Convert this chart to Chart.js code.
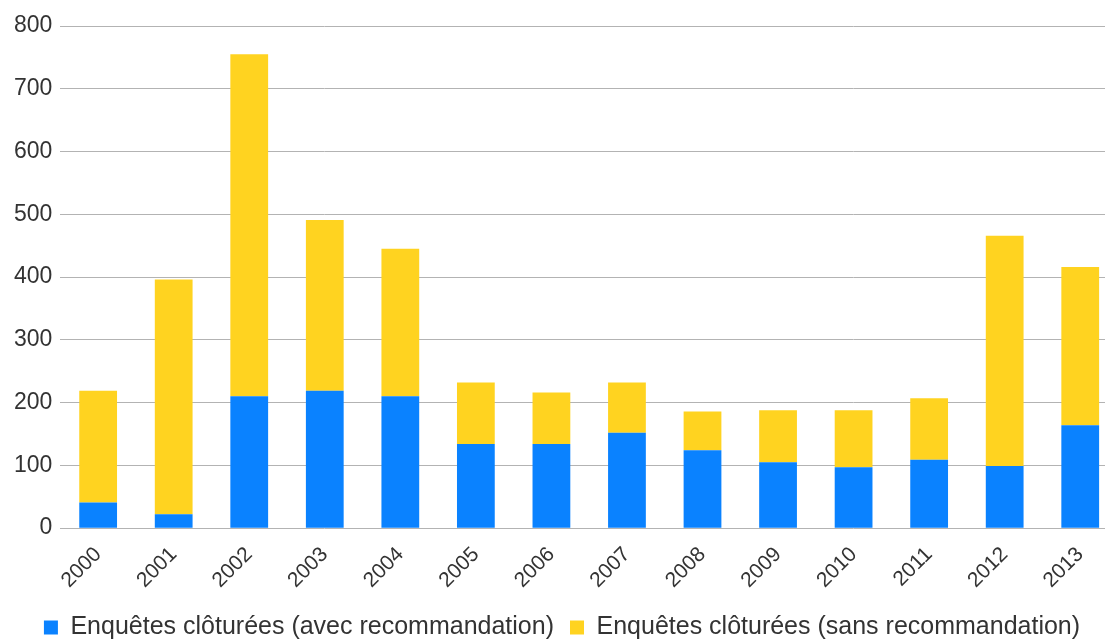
<!DOCTYPE html>
<html lang="fr">
<head>
<meta charset="utf-8">
<title>Enquêtes clôturées</title>
<script src="https://cdn.jsdelivr.net/npm/chart.js@4/dist/chart.umd.min.js"></script>
<style>
  html, body { margin: 0; padding: 0; background: #fff; overflow: hidden; }
  #wrap { position: relative; width: 1118px; height: 650px; }
</style>
</head>
<body>
<div id="wrap"><canvas id="chart"></canvas></div>
<script>
const years = ['2000', '2001', '2002', '2003', '2004', '2005', '2006',
               '2007', '2008', '2009', '2010', '2011', '2012', '2013'];
const avecRecommandation = [41, 22, 210, 219, 210, 134, 134, 152, 124, 105, 97, 109, 99, 164];
const sansRecommandation = [178, 374, 545, 272, 235, 98, 82, 80, 62, 83, 91, 98, 367, 252];
const yTicks = [0, 100, 200, 300, 400, 500, 600, 700, 800];

const fontFamily = '"Liberation Sans", Arial, sans-serif';
const textColor = '#333333';
const gridColor = '#b3b3b3';

new Chart(document.getElementById('chart'), {
    type: 'bar',
    data: {
        labels: years,
        datasets: [
            {
                label: 'Enquêtes clôturées (avec recommandation)',
                data: avecRecommandation,
                backgroundColor: '#0a82ff'
            },
            {
                label: 'Enquêtes clôturées (sans recommandation)',
                data: sansRecommandation,
                backgroundColor: '#ffd320'
            }
        ]
    },
    options: {
        responsive: true,
        maintainAspectRatio: false,
        animation: false,
        layout: { padding: { left: 6, top: 26, right: 0, bottom: 0 } },
        datasets: { bar: { barPercentage: 0.5, categoryPercentage: 1 } },
        scales: {
            x: {
                stacked: true,
                grid: { display: false },
                border: { display: false },
                ticks: {
                    color: textColor,
                    font: { family: fontFamily, size: 21 },
                    minRotation: 45,
                    maxRotation: 45,
                    padding: 6
                }
            },
            y: {
                stacked: true,
                min: 0,
                max: 800,
                afterBuildTicks: (axis) => { axis.ticks = yTicks.map(v => ({ value: v })); },
                grid: { color: gridColor, lineWidth: 1, drawTicks: false },
                border: { display: false },
                ticks: {
                    color: textColor,
                    font: { family: fontFamily, size: 23 },
                    padding: 8
                }
            }
        },
        plugins: {
            legend: {
                position: 'bottom',
                labels: {
                    color: textColor,
                    font: { family: fontFamily, size: 25 },
                    boxWidth: 14,
                    boxHeight: 14,
                    padding: 16
                }
            },
            tooltip: { enabled: false }
        }
    }
});
</script>
</body>
</html>
